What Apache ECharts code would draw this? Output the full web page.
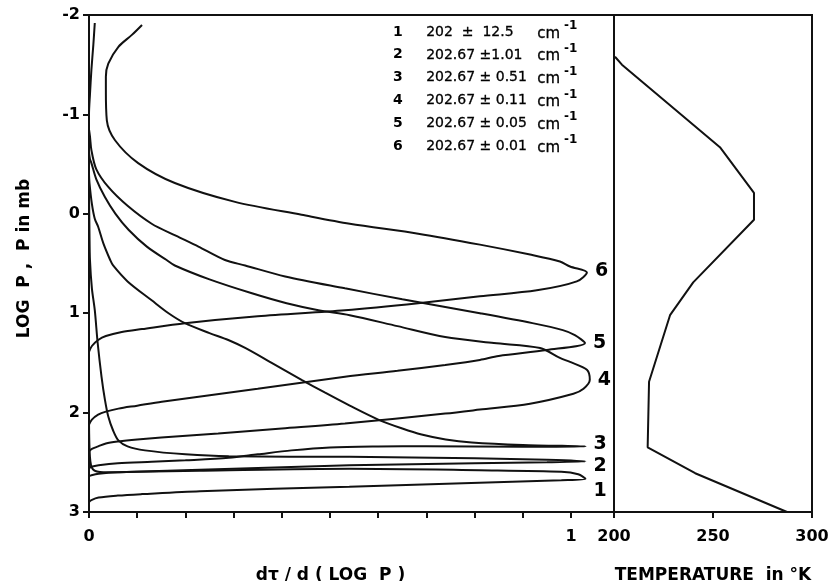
<!DOCTYPE html>
<html><head><meta charset="utf-8">
<script src="https://cdn.jsdelivr.net/npm/echarts@6/dist/echarts.min.js"></script>
<style>html,body{margin:0;padding:0;background:#fff}#c{width:833px;height:581px}</style>
</head><body><div id="c"></div>
<script>
// ---- data ----
const logPTicks = [-2, -1, 0, 1, 2, 3];
const tauTicks = [0, 0.1, 0.2, 0.3, 0.4, 0.5, 0.6, 0.7, 0.8, 0.9, 1.0];
const tauLabels = [0, 1];
const tempTicks = [200, 250, 300];
const curveNames = ['1', '2', '3', '4', '5', '6'];
const bandCentres = ['202  ±  12.5', '202.67 ±1.01', '202.67 ± 0.51', '202.67 ± 0.11', '202.67 ± 0.05', '202.67 ± 0.01'];

// weighting functions: [dTau/dlogP, logP]
const curve1 = [[0.012,-1.92],[0.009,-1.7],[0.005,-1.45],[0.002,-1.2],[0,-1.0],[0,0],[0,1],[0,2],[0.002,2.45],[0.008,2.57],[0.03,2.6],[0.1,2.595],[0.23,2.585],[0.54,2.565],[0.81,2.58],[0.98,2.595],[1.015,2.62],[1.03,2.665],[0.98,2.68],[0.81,2.705],[0.54,2.745],[0.23,2.79],[0.11,2.82],[0.06,2.835],[0.02,2.855],[0.005,2.88],[0,2.9]];
const curve2 = [[0,-0.25],[0.001,0.2],[0.002,0.465],[0.006,0.75],[0.012,0.97],[0.018,1.3],[0.026,1.64],[0.033,1.87],[0.04,2.04],[0.05,2.18],[0.061,2.28],[0.08,2.34],[0.116,2.38],[0.2,2.42],[0.29,2.44],[0.54,2.445],[0.8,2.46],[0.95,2.475],[1.03,2.49],[0.95,2.5],[0.8,2.51],[0.54,2.53],[0.23,2.575],[0.06,2.6],[0.02,2.615],[0.005,2.63],[0,2.64]];
const curve3 = [[0,-0.4],[0.001,-0.31],[0.006,-0.1],[0.012,0.05],[0.019,0.13],[0.03,0.3],[0.044,0.465],[0.05,0.52],[0.08,0.68],[0.13,0.87],[0.165,1.0],[0.199,1.10],[0.25,1.2],[0.289,1.27],[0.324,1.35],[0.379,1.50],[0.441,1.67],[0.49,1.8],[0.541,1.93],[0.6,2.07],[0.65,2.16],[0.69,2.22],[0.74,2.27],[0.794,2.30],[0.9,2.325],[1.03,2.34],[0.9,2.343],[0.7,2.338],[0.6,2.34],[0.5,2.35],[0.42,2.38],[0.35,2.42],[0.29,2.455],[0.2,2.48],[0.13,2.495],[0.06,2.51],[0.02,2.53],[0.005,2.545],[0,2.56]];
const curve4 = [[0,-0.62],[0.002,-0.55],[0.005,-0.51],[0.015,-0.35],[0.033,-0.17],[0.055,0.0],[0.082,0.16],[0.12,0.33],[0.161,0.465],[0.178,0.52],[0.25,0.66],[0.338,0.80],[0.41,0.9],[0.476,0.97],[0.541,1.02],[0.64,1.13],[0.739,1.24],[0.84,1.3],[0.936,1.35],[0.977,1.45],[0.998,1.49],[1.033,1.57],[1.039,1.67],[1.026,1.76],[1.005,1.81],[0.915,1.91],[0.811,1.97],[0.739,2.01],[0.531,2.11],[0.4,2.16],[0.268,2.21],[0.15,2.25],[0.1,2.27],[0.061,2.29],[0.035,2.31],[0.019,2.34],[0.006,2.365],[0,2.39]];
const curve5 = [[0,-0.85],[0.002,-0.78],[0.005,-0.64],[0.015,-0.45],[0.04,-0.27],[0.08,-0.08],[0.13,0.10],[0.18,0.22],[0.227,0.33],[0.282,0.465],[0.324,0.52],[0.407,0.63],[0.531,0.75],[0.65,0.86],[0.811,1.0],[0.92,1.1],[0.983,1.17],[1.008,1.22],[1.029,1.30],[0.95,1.37],[0.85,1.43],[0.811,1.47],[0.739,1.52],[0.64,1.58],[0.531,1.64],[0.35,1.76],[0.151,1.89],[0.1,1.93],[0.061,1.96],[0.035,1.99],[0.019,2.02],[0.006,2.07],[0,2.12]];
const curve6 = [[0.11,-1.90],[0.089,-1.80],[0.061,-1.68],[0.04,-1.51],[0.035,-1.38],[0.035,-1.25],[0.037,-0.94],[0.054,-0.74],[0.102,-0.51],[0.178,-0.31],[0.303,-0.12],[0.441,0.01],[0.541,0.10],[0.683,0.20],[0.811,0.31],[0.915,0.41],[0.977,0.48],[0.998,0.53],[1.033,0.59],[1.012,0.68],[0.929,0.77],[0.811,0.83],[0.683,0.90],[0.531,0.97],[0.35,1.03],[0.199,1.10],[0.11,1.16],[0.068,1.19],[0.035,1.23],[0.019,1.27],[0.006,1.33],[0,1.39]];
const curves = [curve1, curve2, curve3, curve4, curve5, curve6];
// index of each curve's peak (where its number is written)
const peakIdx = [17, 18, 25, 22, 18, 18];
const labelOffsetY = [12, 5, -2, 0, 0, -1];

// temperature profile: [T in K, logP]
const tempProfile = [[200.5,-1.58],[204,-1.5],[253.5,-0.67],[270.7,-0.21],[270.7,0.06],[240,0.69],[228.3,1.02],[217.7,1.69],[217,2.35],[241,2.61],[287.4,3.0]];

// ---- chart ----
const FONT = 'DejaVu Sans';
const black = '#000';
const series = curves.map((c, i) => ({
  type: 'line', xAxisIndex: 0, yAxisIndex: 0, smooth: 0.3, symbol: 'none', silent: true,
  lineStyle: {color: '#111', width: 2}, data: c,
  markPoint: {
    silent: true, symbol: 'circle', symbolSize: 0, itemStyle: {color: black},
    data: [{coord: c[peakIdx[i]],
      label: {show: true, formatter: curveNames[i], position: 'right', distance: 8,
        offset: [0, labelOffsetY[i]], fontFamily: FONT, fontSize: 19, fontWeight: 'bold', color: black,
        textBorderWidth: 0}}]
  }
}));
series.push({
  type: 'line', xAxisIndex: 1, yAxisIndex: 1, symbol: 'none', silent: true,
  lineStyle: {color: '#111', width: 2}, data: tempProfile
});

const legendGraphics = [];
bandCentres.forEach((t, i) => {
  const y = 25 + i * 22.8;
  legendGraphics.push({type: 'text', left: 393, top: y, style: {text: curveNames[i], font: 'bold 14px "' + FONT + '"', fill: black}});
  legendGraphics.push({type: 'text', left: 426, top: y, style: {text: t, font: '14px "' + FONT + '"', fill: black, stroke: black, lineWidth: 0.3}});
  legendGraphics.push({type: 'text', left: 537, top: y + 1, style: {text: 'cm', font: '15px "' + FONT + '"', fill: black, stroke: black, lineWidth: 0.3}});
  legendGraphics.push({type: 'text', left: 564, top: y - 5, style: {text: '-1', font: 'bold 12px "' + FONT + '"', fill: black}});
});

const axisTxt = {fontFamily: FONT, fontSize: 16, fontWeight: 'bold', color: black};
const nameTxt = {fontFamily: FONT, fontSize: 17, fontWeight: 'bold', color: black};
const option = {
  animation: false,
  backgroundColor: '#fff',
  grid: [
    {left: 89, top: 15, width: 525, height: 497, show: true, borderColor: '#111', borderWidth: 2, backgroundColor: 'transparent', outerBoundsMode: 'none', containLabel: false},
    {left: 614, top: 15, width: 198, height: 497, show: true, borderColor: '#111', borderWidth: 2, backgroundColor: 'transparent', outerBoundsMode: 'none', containLabel: false}
  ],
  xAxis: [
    {type: 'value', gridIndex: 0, min: 0, max: 525 / 482, interval: 0.1,
     splitLine: {show: false},
     axisLine: {show: true, onZero: false, lineStyle: {color: '#111', width: 2}},
     axisTick: {show: true, customValues: tauTicks, length: 6, lineStyle: {color: '#111', width: 2}},
     axisLabel: {customValues: tauLabels, margin: 17, ...axisTxt, formatter: v => String(v)},
     name: 'dτ / d ( LOG  P )', nameLocation: 'middle', nameGap: 55,
     nameTextStyle: {...nameTxt, padding: [0, 42, 0, 0]}},
    {type: 'value', gridIndex: 1, min: 200, max: 300, interval: 50,
     splitLine: {show: false},
     axisLine: {show: true, onZero: false, lineStyle: {color: '#111', width: 2}},
     axisTick: {show: true, customValues: tempTicks, length: 6, lineStyle: {color: '#111', width: 2}},
     axisLabel: {customValues: tempTicks, margin: 17, ...axisTxt},
     name: 'TEMPERATURE  in °K', nameLocation: 'middle', nameGap: 55,
     nameTextStyle: nameTxt}
  ],
  yAxis: [
    {type: 'value', gridIndex: 0, min: -2, max: 3, interval: 1, inverse: true,
     splitLine: {show: false},
     axisLine: {show: true, onZero: false, lineStyle: {color: '#111', width: 2}},
     axisTick: {show: true, length: 6, lineStyle: {color: '#111', width: 2}},
     axisLabel: {margin: 9, ...axisTxt, formatter: v => String(v)},
     name: 'LOG  P ,  P in mb', nameLocation: 'middle', nameGap: 56, nameRotate: 90,
     nameTextStyle: {...nameTxt, padding: [0, 0, 0, 10]}},
    {type: 'value', gridIndex: 1, min: -2, max: 3, inverse: true, show: false}
  ],
  graphic: legendGraphics,
  series: series
};
const chart = echarts.init(document.getElementById('c'), null, {renderer: 'canvas'});
chart.setOption(option);
</script></body></html>
